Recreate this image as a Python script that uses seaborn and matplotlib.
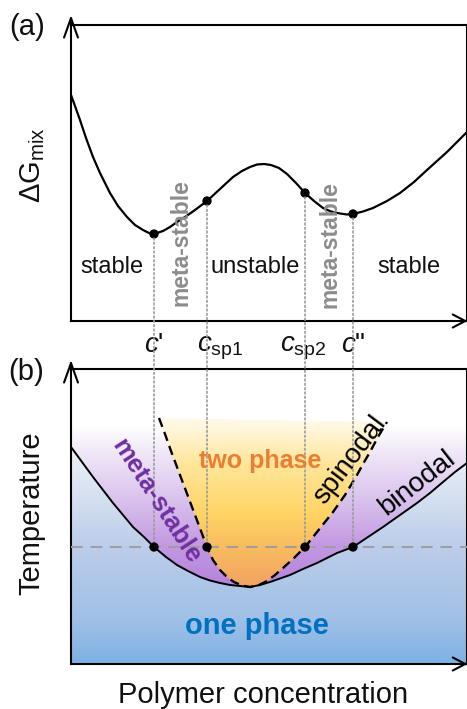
import numpy as np
import matplotlib
matplotlib.use("Agg")
import matplotlib.pyplot as plt
import seaborn as sns
from matplotlib.colors import LinearSegmentedColormap
from matplotlib.patches import Polygon, ConnectionPatch
from matplotlib.patches import ArrowStyle

# ---- data (arbitrary schematic units) ----
conc_g = [0, 4, 9, 15, 22, 29, 39, 47, 56, 64, 72, 78, 83, 92, 99, 106, 114, 124,
          136, 149, 162, 171, 179, 186, 193, 200, 208, 216, 225, 234, 243, 252,
          260, 269, 276, 282, 292, 302, 316, 329, 343, 356, 366, 376, 386, 396]
dG_mix = [226, 215, 201, 183, 164, 148, 128, 115, 104, 96, 91, 88, 87, 90, 94, 99,
          104, 111, 120, 132, 144, 150, 154, 156.5, 157, 156, 153, 147, 138, 128,
          120, 113, 109.5, 107.5, 106.5, 107, 109.5, 113, 120, 128, 139, 151, 160,
          169, 179, 189]

conc_binodal = [0, 11, 22, 32, 42, 52, 62, 73, 83, 95, 106, 117, 129, 139, 149, 159,
                169, 179, 189, 199, 209, 219, 232, 246, 256, 266, 282, 297, 312, 329,
                346, 359, 372, 384, 396]
T_binodal = [217, 202, 187, 174, 161, 149, 137, 127, 117, 107, 99, 93, 87, 83.5, 81,
             79, 78, 77, 79, 82, 85.5, 89, 95, 101, 106, 111, 117, 127, 137, 149,
             161, 171, 182, 192, 201]

conc_spinodal = [88, 94, 100, 106, 112, 118, 124, 130, 136, 142, 149, 156, 163, 171,
                 179, 187, 196, 204, 212, 223, 234, 246, 254, 262, 268, 274, 280, 286,
                 292, 299, 307, 316]
T_spinodal = [246, 230, 213, 197, 181, 165, 149, 133, 117, 104, 94, 87, 82, 78.5, 77,
              78.5, 83, 89, 96, 106, 117, 132, 142, 152, 160.5, 169, 179, 189, 200,
              212, 227, 242]

point_labels = ["$c$'", r"$c_{\mathrm{sp1}}$", r"$c_{\mathrm{sp2}}$", '$c$"']
point_conc = [83, 136, 234, 282]
point_dG = [87, 120, 128, 107]
point_T = [117, 117, 117, 117]

region_labels_a = ["stable", "unstable", "stable"]
region_conc_a = [41, 184, 338]

# ---- style ----
sns.set_theme(style="white")
plt.rcParams["font.family"] = ["Liberation Sans", "DejaVu Sans"]
plt.rcParams["mathtext.fontset"] = "custom"
plt.rcParams["mathtext.rm"] = "Liberation Sans"
plt.rcParams["mathtext.it"] = "Liberation Sans:italic"

W, H = 467, 709
fig = plt.figure(figsize=(W / 100, H / 100), dpi=100)

XMAX = 395.5
ax_a = fig.add_axes([71 / W, 1 - 321 / H, (466.5 - 71) / W, 296 / H])
ax_b = fig.add_axes([71 / W, 1 - 664 / H, (466.5 - 71) / W, 295 / H])
GMAX, TMAX = 296, 295

for ax in (ax_a, ax_b):
    ax.set_xticks([])
    ax.set_yticks([])
    for s in ax.spines.values():
        s.set_color("black")
        s.set_linewidth(1.5)


def gradient_fill(ax, stops, clip_xy=None, zorder=0):
    cmap = LinearSegmentedColormap.from_list(
        "grad", [(t / TMAX, tuple(v / 255 for v in c)) for t, c in stops])
    img = ax.imshow(np.linspace(0, 1, 400)[:, None], extent=(0, XMAX, 0, TMAX),
                    origin="lower", aspect="auto", cmap=cmap, vmin=0, vmax=1,
                    zorder=zorder, interpolation="bilinear")
    if clip_xy is not None:
        poly = Polygon(clip_xy, closed=True, transform=ax.transData,
                       facecolor="none", edgecolor="none")
        ax.add_patch(poly)
        img.set_clip_path(poly)


# ---- panel (a): free energy of mixing ----
sns.lineplot(x=conc_g, y=dG_mix, ax=ax_a, sort=False, estimator=None,
             color="black", lw=1.6, zorder=3)
sns.scatterplot(x=point_conc, y=point_dG, ax=ax_a, color="black", s=45,
                edgecolor="none", zorder=5)
ax_a.set_xlim(0, XMAX)
ax_a.set_ylim(0, GMAX)

for lab, xc in zip(region_labels_a, region_conc_a):
    ax_a.text(xc, 48, lab, ha="center", va="baseline", fontsize=17, color="#111111")
for xc, yc in [(110, 78), (258.5, 76)]:
    ax_a.text(xc, yc, "meta-stable", rotation=90, ha="center", va="center",
              fontsize=16.5, fontweight="bold", color="#8c8c8c")

# concentration markers below panel (a)
label_offsets = [0, -10, -25, 0]
label_ha = ["center", "left", "left", "center"]
for lab, xc, dx, ha in zip(point_labels, point_conc, label_offsets, label_ha):
    ax_a.text(xc + dx, -31, lab, ha=ha, va="baseline", fontsize=20,
              clip_on=False, color="#111111")

# ---- panel (b): phase diagram ----
gradient_fill(ax_b, [(0, (125, 178, 228)), (44, (160, 192, 230)),
                     (117, (188, 205, 234)), (164, (212, 223, 240)),
                     (214, (236, 241, 249)), (245, (255, 255, 255)),
                     (295, (255, 255, 255))], zorder=0)
above_binodal = list(zip(conc_binodal, T_binodal)) + [(XMAX, TMAX), (0, TMAX)]
gradient_fill(ax_b, [(0, (178, 126, 218)), (77, (180, 130, 219)),
                     (117, (194, 152, 225)), (164, (217, 194, 237)),
                     (214, (241, 233, 248)), (238, (255, 255, 255)),
                     (295, (255, 255, 255))], clip_xy=above_binodal, zorder=1)
inside_spinodal = list(zip(conc_spinodal, T_spinodal))
gradient_fill(ax_b, [(0, (242, 160, 95)), (77, (242, 162, 98)),
                     (117, (248, 188, 96)), (150, (255, 212, 100)),
                     (200, (255, 230, 155)), (246, (255, 250, 236)),
                     (295, (255, 255, 255))], clip_xy=inside_spinodal, zorder=2)

ax_b.axhline(point_T[0], color="#9e9e9e", lw=1.4, linestyle=(0, (6, 4)), zorder=3)
sns.lineplot(x=conc_binodal, y=T_binodal, ax=ax_b, sort=False, estimator=None,
             color="black", lw=1.4, zorder=4)
sns.lineplot(x=conc_spinodal, y=T_spinodal, ax=ax_b, sort=False, estimator=None,
             color="black", lw=1.7, linestyle=(0, (4, 2.3)), zorder=4)
sns.scatterplot(x=point_conc, y=point_T, ax=ax_b, color="black", s=45,
                edgecolor="none", zorder=6)
ax_b.set_xlim(0, XMAX)
ax_b.set_ylim(0, TMAX)

ax_b.text(189, 196, "two phase", ha="center", va="baseline", fontsize=18,
          fontweight="bold", color="#ED7D31", zorder=7)
ax_b.text(185.5, 30, "one phase", ha="center", va="baseline", fontsize=21,
          fontweight="bold", color="#0070C0", zorder=7)
ax_b.text(85.5, 162.5, "meta-stable", rotation=-57, rotation_mode="anchor",
          ha="center", va="center", fontsize=18.5, fontweight="bold",
          color="#7030A0", zorder=7)
ax_b.text(279, 204, "spinodal", rotation=53, rotation_mode="anchor",
          ha="center", va="center", fontsize=20, color="black", zorder=7)
ax_b.text(346, 181, "binodal", rotation=38, rotation_mode="anchor",
          ha="center", va="center", fontsize=20, color="black", zorder=7)

# dotted guides linking the two panels
for xc, g, t in zip(point_conc, point_dG, point_T):
    con = ConnectionPatch(xyA=(xc, g), coordsA=ax_a.transData,
                          xyB=(xc, t), coordsB=ax_b.transData,
                          color="#9a9a9a", lw=1.2, linestyle=(0, (1, 1.6)),
                          shrinkA=3, shrinkB=0, zorder=5)
    con.set_clip_on(False)
    ax_b.add_artist(con)

# axis arrows
for ax, ytip in ((ax_a, 1 + 10 / GMAX), (ax_b, 1 + 9 / TMAX)):
    ax.annotate("", xy=(0, ytip), xytext=(0, 1), xycoords="axes fraction",
                textcoords="axes fraction", annotation_clip=False,
                arrowprops=dict(arrowstyle=ArrowStyle("->", head_length=14, head_width=5),
                                mutation_scale=1, lw=1.5, color="black",
                                shrinkA=0, shrinkB=0))
    ax.annotate("", xy=(1 + 1 / XMAX, 0), xytext=(1, 0), xycoords="axes fraction",
                textcoords="axes fraction", annotation_clip=False,
                arrowprops=dict(arrowstyle=ArrowStyle("->", head_length=9, head_width=4.7),
                                mutation_scale=1, lw=1.5, color="black",
                                shrinkA=0, shrinkB=0))

# panel tags and axis titles
fig.text(27 / W, 1 - 27 / H, "(a)", ha="center", va="center", fontsize=21, color="#111111")
fig.text(26 / W, 1 - 372 / H, "(b)", ha="center", va="center", fontsize=21, color="#111111")
fig.text(33 / W, 1 - 165 / H, r"ΔG$_{\mathrm{mix}}$", rotation=90, ha="center",
         va="center", fontsize=21, color="#111111")
fig.text(31 / W, 1 - 513 / H, "Temperature", rotation=90, ha="center", va="center",
         fontsize=21, color="#111111")
fig.text(263 / W, 1 - 695 / H, "Polymer concentration", ha="center", va="center",
         fontsize=21, color="#111111")

fig.savefig("out.png", dpi=100)
